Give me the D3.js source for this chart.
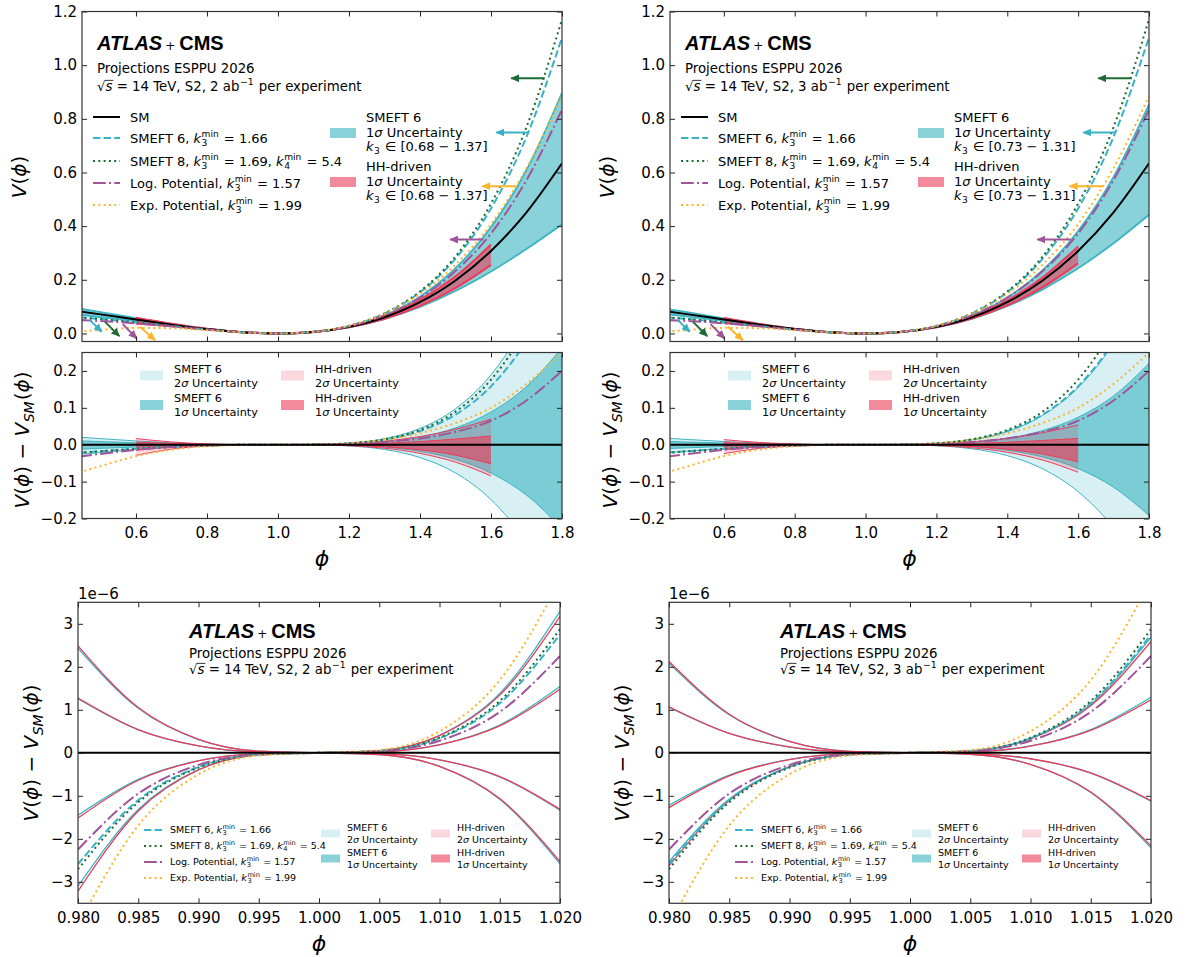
<!DOCTYPE html>
<html>
<head>
<meta charset="utf-8">
<script src="https://cdn.jsdelivr.net/npm/d3@7"></script>
<style>
body { margin: 0; background: #fff; }
svg text { white-space: pre; font-family: "DejaVu Sans", sans-serif; fill: #000; }
</style>
</head>
<body>
<svg id="chart" width="1186" height="957"></svg>
<script>
// ---- values ----
var phiTop = [0.44, 0.5, 0.6, 0.7, 0.8, 0.9, 1.0, 1.1, 1.2, 1.3, 1.4, 1.5, 1.6, 1.7, 1.8];
var vSM     = [0.0822, 0.0711, 0.0518, 0.0329, 0.0164, 0.0046, 0, 0.0056, 0.0245, 0.0602, 0.1165, 0.1975, 0.3076, 0.4515, 0.6342];
// V - V_SM for the benchmark potentials
var dSmeft6 = [-0.0219, -0.0176, -0.0109, -0.0055, -0.0019, -0.0003, 0, 0.0004, 0.0036, 0.0137, 0.0369, 0.0814, 0.1583, 0.2815, 0.4687];
var dSmeft8 = [-0.0221, -0.0178, -0.0111, -0.0057, -0.0020, -0.0003, 0, 0.0004, 0.0038, 0.0147, 0.0401, 0.0896, 0.1764, 0.3177, 0.5361];
var dLog    = [-0.032, -0.025, -0.014, -0.0065, -0.0022, -0.0003, 0, 0.0003, 0.0023, 0.0075, 0.017, 0.035, 0.065, 0.12, 0.20];
var dExp    = [-0.075, -0.058, -0.031, -0.0135, -0.004, -0.0005, 0, 0.0005, 0.004, 0.0135, 0.031, 0.059, 0.10, 0.165, 0.25];

// SMEFT 6 bands, 2 ab-1
var band2Lo1 = [0.0106, 0.0085, 0.0053, 0.0027, 0.0009, 0.0001, 0, -0.0002, -0.0017, -0.0066, -0.0179, -0.0395, -0.0768, -0.1365, -0.2273];
var band2Hi1 = [-0.0123, -0.0099, -0.0061, -0.0031, -0.0011, -0.0002, 0, 0.0002, 0.0020, 0.0077, 0.0207, 0.0457, 0.0888, 0.1578, 0.2628];
var band2Lo2 = [0.0205, 0.0165, 0.0103, 0.0052, 0.0018, 0.0003, 0, -0.0004, -0.0033, -0.0129, -0.0347, -0.0765, -0.1487, -0.2645, -0.4402];
var band2Hi2 = [-0.0262, -0.0211, -0.0131, -0.0066, -0.0023, -0.0003, 0, 0.0005, 0.0043, 0.0164, 0.0442, 0.0975, 0.1896, 0.3371, 0.5612];
// SMEFT 6 bands, 3 ab-1
var band3Lo1 = [0.0089, 0.0072, 0.0045, 0.0023, 0.0008, 0.0001, 0, -0.0002, -0.0015, -0.0056, -0.0151, -0.0333, -0.0648, -0.1152, -0.1917];
var band3Hi1 = [-0.0103, -0.0083, -0.0051, -0.0026, -0.0009, -0.0001, 0, 0.0002, 0.0017, 0.0064, 0.0173, 0.0383, 0.0744, 0.1323, 0.2202];
var band3Lo2 = [0.0176, 0.0141, 0.0088, 0.0044, 0.0016, 0.0002, 0, -0.0003, -0.0029, -0.0110, -0.0296, -0.0654, -0.1272, -0.2262, -0.3765];
var band3Hi2 = [-0.0214, -0.0172, -0.0107, -0.0054, -0.0019, -0.0003, 0, 0.0004, 0.0035, 0.0134, 0.0361, 0.0796, 0.1547, 0.2752, 0.4581];

// HH-driven bands (phi 0.6 - 1.6)
var phiHH = [0.6, 0.7, 0.8, 0.9, 1.0, 1.1, 1.2, 1.3, 1.4, 1.5, 1.6];
var hh2Lo1 = [0.0070, 0.0033, 0.0011, 0.0002, 0, -0.0002, -0.0015, -0.0054, -0.0137, -0.0284, -0.0518];
var hh2Hi1 = [-0.0153, -0.0061, -0.0017, -0.0002, 0, 0.0002, 0.0013, 0.0040, 0.0086, 0.0153, 0.0236];
var hh2Lo2 = [0.0167, 0.0074, 0.0023, 0.0003, 0, -0.0003, -0.0027, -0.0095, -0.0234, -0.0473, -0.0846];
var hh2Hi2 = [-0.0289, -0.0118, -0.0034, -0.0004, 0, 0.0004, 0.0030, 0.0097, 0.0222, 0.0418, 0.0694];
var hh3Lo1 = [0.0054, 0.0026, 0.0009, 0.0001, 0, -0.0001, -0.0013, -0.0047, -0.0121, -0.0252, -0.0463];
var hh3Hi1 = [-0.0134, -0.0053, -0.0015, -0.0002, 0, 0.0002, 0.0010, 0.0032, 0.0067, 0.0115, 0.0170];
var hh3Lo2 = [0.0138, 0.0062, 0.0019, 0.0003, 0, -0.0003, -0.0024, -0.0083, -0.0205, -0.0416, -0.0747];
var hh3Hi2 = [-0.0242, -0.0099, -0.0028, -0.0003, 0, 0.0003, 0.0024, 0.0078, 0.0175, 0.0326, 0.0536];

// zoom around the minimum, units of 1e-6
var phiBot  = [0.980, 0.985, 0.990, 0.995, 1.000, 1.005, 1.010, 1.015, 1.020];
var bSmeft6 = [-2.590, -1.101, -0.329, -0.041, 0, 0.042, 0.339, 1.151, 2.750];
var bSmeft8 = [-2.708, -1.151, -0.344, -0.043, 0, 0.044, 0.354, 1.204, 2.875];
var bLog    = [-2.25, -0.95, -0.28, -0.035, 0, 0.035, 0.28, 0.95, 2.25];
var bExp    = [-4.0, -1.69, -0.5, -0.063, 0, 0.063, 0.5, 1.69, 4.0];
var bS2Lo1 = [1.256, 0.534, 0.159, 0.020, 0, -0.020, -0.164, -0.558, -1.333];
var bS2Hi1 = [-1.452, -0.617, -0.184, -0.023, 0, 0.024, 0.190, 0.646, 1.542];
var bS2Lo2 = [2.432, 1.034, 0.309, 0.039, 0, -0.039, -0.318, -1.081, -2.583];
var bS2Hi2 = [-3.101, -1.318, -0.393, -0.050, 0, 0.050, 0.405, 1.379, 3.292];
var bH2Lo1 = [1.273, 0.539, 0.161, 0.020, 0, -0.020, -0.163, -0.553, -1.315];
var bH2Hi1 = [-1.518, -0.638, -0.188, -0.023, 0, 0.023, 0.186, 0.625, 1.476];
var bH2Lo2 = [2.487, 1.051, 0.313, 0.039, 0, -0.039, -0.315, -1.065, -2.529];
var bH2Hi2 = [-3.216, -1.355, -0.400, -0.050, 0, 0.050, 0.398, 1.341, 3.174];
var bS3Lo1 = [1.059, 0.450, 0.134, 0.017, 0, -0.017, -0.139, -0.471, -1.125];
var bS3Hi1 = [-1.217, -0.517, -0.154, -0.019, 0, 0.020, 0.159, 0.541, 1.292];
var bS3Lo2 = [2.080, 0.884, 0.264, 0.033, 0, -0.034, -0.272, -0.925, -2.209];
var bS3Hi2 = [-2.531, -1.076, -0.321, -0.040, 0, 0.041, 0.331, 1.125, 2.688];
var bH3Lo1 = [1.071, 0.454, 0.136, 0.017, 0, -0.017, -0.138, -0.467, -1.113];
var bH3Hi1 = [-1.275, -0.536, -0.158, -0.020, 0, 0.020, 0.156, 0.522, 1.233];
var bH3Lo2 = [2.123, 0.898, 0.267, 0.033, 0, -0.034, -0.269, -0.911, -2.165];
var bH3Hi2 = [-2.630, -1.108, -0.327, -0.041, 0, 0.041, 0.325, 1.094, 2.588];

// arrows in the upper panels (phi, V)
var arrowX0 = [1.751, 1.707, 1.670, 1.579, 0.4705, 0.513, 0.5627, 0.6114];
var arrowY0 = [0.951, 0.749, 0.549, 0.350, 0.0496, 0.043, 0.0347, 0.0246];
var arrowX1 = [1.657, 1.615, 1.576, 1.485, 0.5035, 0.553, 0.6021, 0.6537];
var arrowY1 = [0.951, 0.749, 0.549, 0.350, 0.006, -0.010, -0.0187, -0.025];
var arrowModel = ['s8', 's6', 'exp', 'log', 's6', 's8', 'log', 'exp'];

var xTicksTop = [0.6, 0.8, 1.0, 1.2, 1.4, 1.6, 1.8];
var yTicksTop = [0, 0.2, 0.4, 0.6, 0.8, 1.0, 1.2];
var yTicksRatio = [-0.2, -0.1, 0, 0.1, 0.2];
var xTicksBot = [0.980, 0.985, 0.990, 0.995, 1.000, 1.005, 1.010, 1.015, 1.020];
var yTicksBot = [-3, -2, -1, 0, 1, 2, 3];

// ---- style ----
var C_S6 = '#38b2c4', C_S8 = '#1e6b35', C_LOG = '#a0549a', C_EXP = '#fbb52b';
var C_BAND = '#3cb4c2', C_HH = '#eb3c5a';
var DASH = { s6: '7.4,3.2', s8: '2,3.3', log: '12.8,3.2,2,3.2', exp: '2,3.3' };
var COL = { s6: C_S6, s8: C_S8, log: C_LOG, exp: C_EXP };
var K3 = [{ t: 'k', it: true }, { sub: '3', sup: 'min' }];

var svg = d3.select('#chart');
var defs = svg.append('defs');
var clipN = 0;

Object.keys(COL).forEach(function (k) {
    defs.append('marker')
        .attr('id', 'arr-' + k)
        .attr('markerUnits', 'userSpaceOnUse')
        .attr('markerWidth', 9).attr('markerHeight', 8)
        .attr('refX', 8).attr('refY', 4)
        .attr('orient', 'auto')
        .append('path').attr('d', 'M0,0 L9,4 L0,8 Z').attr('fill', COL[k]);
});

// text made of pieces: plain, italic, sub/superscripts
function rich(g, x, y, parts, fs) {
    var cx = x;
    parts.forEach(function (p) {
        if (typeof p === 'string') p = { t: p };
        if (p.t !== undefined) {
            var t = g.append('text').attr('x', cx).attr('y', y).attr('font-size', fs).text(p.t);
            if (p.it) t.attr('font-style', 'italic');
            var w = t.node().getComputedTextLength();
            if (p.over) {
                g.append('line')
                    .attr('x1', cx - 0.5).attr('x2', cx + w + 1)
                    .attr('y1', y - fs * 0.8).attr('y2', y - fs * 0.8)
                    .attr('stroke', '#000').attr('stroke-width', fs * 0.06);
            }
            cx += w;
        } else {
            var s = fs * 0.7, w2 = 0;
            if (p.sup) {
                var a = g.append('text').attr('x', cx + 0.5).attr('y', y - fs * 0.42).attr('font-size', s).text(p.sup);
                w2 = a.node().getComputedTextLength();
            }
            if (p.sub) {
                var b = g.append('text').attr('x', cx + 0.5).attr('y', y + fs * 0.22).attr('font-size', s).text(p.sub);
                if (p.subIt) b.attr('font-style', 'italic');
                w2 = Math.max(w2, b.node().getComputedTextLength());
            }
            cx += w2 + 1.5;
        }
    });
    return cx - x;
}

function yLabel(cx, cy, parts, fs) {
    var g = svg.append('g').attr('transform', 'translate(' + cx + ',' + cy + ') rotate(-90)');
    var inner = g.append('g');
    var w = rich(inner, 0, 0, parts, fs);
    inner.attr('transform', 'translate(' + (-w / 2) + ',' + (fs * 0.36) + ')');
}

function xLabel(cx, cy) {
    svg.append('text').attr('x', cx).attr('y', cy + 8).attr('text-anchor', 'middle')
        .attr('font-size', 22).attr('font-style', 'italic').text('ϕ');
}

function clip(x0, y0, x1, y1) {
    var id = 'clip' + (clipN++);
    defs.append('clipPath').attr('id', id).append('rect')
        .attr('x', x0).attr('y', y0).attr('width', x1 - x0).attr('height', y1 - y0);
    return svg.append('g').attr('clip-path', 'url(#' + id + ')');
}

function axes(x, y, x0, x1, y0, y1, xt, yt, xfmt, yfmt) {
    var parts = [
        ['translate(0,' + y1 + ')', d3.axisBottom(x).tickValues(xt).tickFormat(xfmt || ''), 9],
        ['translate(0,' + y0 + ')', d3.axisTop(x).tickValues(xt).tickFormat(''), 3],
        ['translate(' + x0 + ',0)', d3.axisLeft(y).tickValues(yt).tickFormat(yfmt), 5],
        ['translate(' + x1 + ',0)', d3.axisRight(y).tickValues(yt).tickFormat(''), 3]
    ];
    parts.forEach(function (p) {
        var a = svg.append('g').attr('transform', p[0])
            .call(p[1].tickSizeInner(-5).tickSizeOuter(0).tickPadding(p[2]));
        a.select('.domain').remove();
        a.attr('font-family', '"DejaVu Sans", sans-serif').attr('font-size', 15);
        a.selectAll('line').attr('stroke', '#222').attr('stroke-width', 1);
    });
    svg.append('rect').attr('x', x0).attr('y', y0).attr('width', x1 - x0).attr('height', y1 - y0)
        .attr('fill', 'none').attr('stroke', '#333').attr('stroke-width', 1.2);
}

function zip(xs, ys, base) {
    return xs.map(function (p, i) { return [p, ys[i] + (base ? base[i] : 0)]; });
}

function title(x0, yA, yP, yS, lumi) {
    var g = svg.append('g');
    var a = g.append('text').attr('x', x0).attr('y', yA)
        .style('font-family', '"Liberation Sans", Arial, sans-serif')
        .attr('font-weight', 'bold').attr('font-style', 'italic').attr('font-size', 20).text('ATLAS');
    var cx = x0 + a.node().getComputedTextLength() + 3;
    var p = g.append('text').attr('x', cx).attr('y', yA).attr('font-size', 12).text('+');
    cx += p.node().getComputedTextLength() + 4;
    g.append('text').attr('x', cx).attr('y', yA)
        .style('font-family', '"Liberation Sans", Arial, sans-serif')
        .attr('font-weight', 'bold').attr('font-size', 20).text('CMS');
    rich(g, x0, yP, ['Projections ESPPU 2026'], 13.3);
    rich(g, x0, yS, [{ t: '√' }, { t: 's', it: true, over: true }, { t: ' = 14 TeV, S2, ' + lumi + ' ab' },
        { sup: '−1' }, { t: ' per experiment' }], 13.3);
}

var modelsTop = [
    { k: 's6', d: dSmeft6 }, { k: 's8', d: dSmeft8 }, { k: 'log', d: dLog }, { k: 'exp', d: dExp }
];
var modelsBot = [
    { k: 's6', d: bSmeft6 }, { k: 's8', d: bSmeft8 }, { k: 'log', d: bLog }, { k: 'exp', d: bExp }
];
var modelLabels = {
    s6: ['SMEFT 6, '].concat(K3, [' = 1.66']),
    s8: ['SMEFT 8, '].concat(K3, [' = 1.69, ', { t: 'k', it: true }, { sub: '4', sup: 'min' }, ' = 5.4']),
    log: ['Log. Potential, '].concat(K3, [' = 1.57']),
    exp: ['Exp. Potential, '].concat(K3, [' = 1.99'])
};

function styled(path, k, lw) {
    return path.attr('fill', 'none').attr('stroke', COL[k]).attr('stroke-width', lw)
        .attr('stroke-dasharray', DASH[k]);
}

// ---- upper panel: V(phi) ----
function topPanel(o) {
    var x0 = o.x0, x1 = o.x1, y0 = 11.5, y1 = 341.5;
    var x = d3.scaleLinear().domain([0.448, 1.8]).range([x0, x1]);
    var y = d3.scaleLinear().domain([-0.03, 1.2]).range([y1, y0]);
    var line = d3.line().x(function (d) { return x(d[0]); }).y(function (d) { return y(d[1]); }).curve(d3.curveMonotoneX);
    var area = d3.area().x(function (d) { return x(d[0]); })
        .y0(function (d) { return y(d[1]); }).y1(function (d) { return y(d[2]); }).curve(d3.curveMonotoneX);
    var g = clip(x0, y0, x1, y1);

    var band = phiTop.map(function (p, i) { return [p, vSM[i] + o.lo1[i], vSM[i] + o.hi1[i]]; });
    g.append('path').attr('d', area(band)).attr('fill', C_BAND).attr('fill-opacity', 0.6);
    [o.lo1, o.hi1].forEach(function (e) {
        g.append('path').attr('d', line(zip(phiTop, e, vSM))).attr('fill', 'none')
            .attr('stroke', C_BAND).attr('stroke-width', 1.8);
    });

    var vSMhh = vSM.slice(2, 13);
    var hh = phiHH.map(function (p, i) { return [p, vSMhh[i] + o.hhLo1[i], vSMhh[i] + o.hhHi1[i]]; });
    g.append('path').attr('d', area(hh)).attr('fill', C_HH).attr('fill-opacity', 0.6);
    [o.hhLo1, o.hhHi1].forEach(function (e) {
        g.append('path').attr('d', line(zip(phiHH, e, vSMhh))).attr('fill', 'none')
            .attr('stroke', C_HH).attr('stroke-width', 2);
    });

    g.append('path').attr('d', line(zip(phiTop, vSM))).attr('fill', 'none')
        .attr('stroke', '#000').attr('stroke-width', 2);
    modelsTop.forEach(function (m) {
        styled(g.append('path').attr('d', line(zip(phiTop, m.d, vSM))), m.k, 2);
    });

    arrowX0.forEach(function (ax, i) {
        g.append('line')
            .attr('x1', x(ax)).attr('y1', y(arrowY0[i]))
            .attr('x2', x(arrowX1[i])).attr('y2', y(arrowY1[i]))
            .attr('stroke', COL[arrowModel[i]]).attr('stroke-width', 2)
            .attr('marker-end', 'url(#arr-' + arrowModel[i] + ')');
    });

    axes(x, y, x0, x1, y0, y1, xTicksTop, yTicksTop, null, d3.format('.1f'));
    yLabel(x0 - 63.5, 177, [{ t: 'V', it: true }, '(', { t: 'ϕ', it: true }, ')'], 20);
    title(x0 + 15, 50, 73, 91, o.lumi);

    // legend: models
    var lg = svg.append('g');
    var rows = [117, 138, 161, 183, 205];
    var keys = ['sm', 's6', 's8', 'log', 'exp'];
    keys.forEach(function (k, i) {
        var l = lg.append('line').attr('x1', x0 + 11).attr('x2', x0 + 38)
            .attr('y1', rows[i]).attr('y2', rows[i]).attr('stroke-width', 2);
        if (k === 'sm') l.attr('stroke', '#000');
        else l.attr('stroke', COL[k]).attr('stroke-dasharray', DASH[k]);
        rich(lg, x0 + 48, rows[i] + 4.7, k === 'sm' ? ['SM'] : modelLabels[k], 13);
    });
    // legend: bands
    var sw = [[o.x0 + 248, 128, C_BAND, 'SMEFT 6', 117], [o.x0 + 248, 177, C_HH, 'HH-driven', 166]];
    sw.forEach(function (s) {
        lg.append('rect').attr('x', s[0]).attr('y', s[1]).attr('width', 26).attr('height', 10)
            .attr('fill', s[2]).attr('fill-opacity', 0.6);
        rich(lg, x0 + 284, s[4] + 4.7, [s[3]], 13);
        rich(lg, x0 + 284, s[4] + 19.7, ['1', { t: 'σ', it: true }, ' Uncertainty'], 13);
        rich(lg, x0 + 284, s[4] + 33.7, [{ t: 'k', it: true }, { sub: '3' }, ' ∈ ' + o.range], 13);
    });
}

// ---- ratio panel: V - V_SM ----
function ratioPanel(o) {
    var x0 = o.x0, x1 = o.x1, y0 = 352.5, y1 = 518.5;
    var x = d3.scaleLinear().domain([0.448, 1.8]).range([x0, x1]);
    var y = d3.scaleLinear().domain([-0.2, 0.25]).range([y1, y0]);
    var line = d3.line().x(function (d) { return x(d[0]); }).y(function (d) { return y(d[1]); }).curve(d3.curveMonotoneX);
    var area = d3.area().x(function (d) { return x(d[0]); })
        .y0(function (d) { return y(d[1]); }).y1(function (d) { return y(d[2]); }).curve(d3.curveMonotoneX);
    var g = clip(x0, y0, x1, y1);

    function band(xs, lo, hi, col, op) {
        g.append('path').attr('d', area(xs.map(function (p, i) { return [p, lo[i], hi[i]]; })))
            .attr('fill', col).attr('fill-opacity', op);
        [lo, hi].forEach(function (e) {
            g.append('path').attr('d', line(zip(xs, e))).attr('fill', 'none')
                .attr('stroke', col).attr('stroke-width', 1);
        });
    }
    band(phiTop, o.lo2, o.hi2, C_BAND, 0.2);
    band(phiTop, o.lo1, o.hi1, C_BAND, 0.6);
    band(phiHH, o.hhLo2, o.hhHi2, C_HH, 0.2);
    band(phiHH, o.hhLo1, o.hhHi1, C_HH, 0.6);

    modelsTop.forEach(function (m) {
        styled(g.append('path').attr('d', line(zip(phiTop, m.d))), m.k, 2);
    });
    g.append('line').attr('x1', x0).attr('x2', x1).attr('y1', y(0)).attr('y2', y(0))
        .attr('stroke', '#000').attr('stroke-width', 2);

    axes(x, y, x0, x1, y0, y1, xTicksTop, yTicksRatio, d3.format('.1f'), d3.format('.1f'));
    yLabel(x0 - 60, 440, [{ t: 'V', it: true }, '(', { t: 'ϕ', it: true }, ') − ', { t: 'V', it: true },
        { sub: 'SM', subIt: true }, '(', { t: 'ϕ', it: true }, ')'], 20);
    xLabel((x0 + x1) / 2, 558);

    var lg = svg.append('g');
    var items = [
        [x0 + 58, 370.5, C_BAND, 0.2, 'SMEFT 6', '2', 369],
        [x0 + 58, 400, C_BAND, 0.6, 'SMEFT 6', '1', 398],
        [x0 + 199, 370.5, C_HH, 0.2, 'HH-driven', '2', 369],
        [x0 + 199, 400, C_HH, 0.6, 'HH-driven', '1', 398]
    ];
    items.forEach(function (s) {
        lg.append('rect').attr('x', s[0]).attr('y', s[1]).attr('width', 23).attr('height', 10)
            .attr('fill', s[2]).attr('fill-opacity', s[3]);
        rich(lg, s[0] + 34, s[6] + 4, [s[4]], 11.3);
        rich(lg, s[0] + 34, s[6] + 17.5, [s[5], { t: 'σ', it: true }, ' Uncertainty'], 11.3);
    });
}

// ---- lower panels: zoom near phi = 1 ----
function bottomPanel(o) {
    var x0 = o.x0, x1 = o.x1, y0 = 602.3, y1 = 903.3;
    var x = d3.scaleLinear().domain([0.98, 1.02]).range([x0, x1]);
    var y = d3.scaleLinear().domain([-3.5, 3.5]).range([y1, y0]);
    var line = d3.line().x(function (d) { return x(d[0]); }).y(function (d) { return y(d[1]); }).curve(d3.curveMonotoneX);
    var g = clip(x0, y0, x1, y1);

    o.sEdges.forEach(function (e) {
        g.append('path').attr('d', line(zip(phiBot, e))).attr('fill', 'none')
            .attr('stroke', C_BAND).attr('stroke-width', 1.3);
    });
    o.hEdges.forEach(function (e) {
        g.append('path').attr('d', line(zip(phiBot, e))).attr('fill', 'none')
            .attr('stroke', C_HH).attr('stroke-width', 1.3);
    });
    modelsBot.forEach(function (m) {
        styled(g.append('path').attr('d', line(zip(phiBot, m.d))), m.k, 2);
    });
    g.append('line').attr('x1', x0).attr('x2', x1).attr('y1', y(0)).attr('y2', y(0))
        .attr('stroke', '#000').attr('stroke-width', 2);

    axes(x, y, x0, x1, y0, y1, xTicksBot, yTicksBot, d3.format('.3f'), d3.format('d'));
    svg.append('text').attr('x', x0).attr('y', 599).attr('font-size', 15).text('1e−6');
    yLabel(x0 - 47, 753, [{ t: 'V', it: true }, '(', { t: 'ϕ', it: true }, ') − ', { t: 'V', it: true },
        { sub: 'SM', subIt: true }, '(', { t: 'ϕ', it: true }, ')'], 20);
    xLabel((x0 + x1) / 2, 943);
    title(x0 + 111, 638, 657.5, 674, o.lumi);

    var lg = svg.append('g');
    var rows = [830, 846, 862, 878];
    ['s6', 's8', 'log', 'exp'].forEach(function (k, i) {
        lg.append('line').attr('x1', x0 + 66).attr('x2', x0 + 86).attr('y1', rows[i]).attr('y2', rows[i])
            .attr('stroke', COL[k]).attr('stroke-width', 2).attr('stroke-dasharray', DASH[k]);
        rich(lg, x0 + 92, rows[i] + 3.4, modelLabels[k], 9.5);
    });
    var items = [
        [x0 + 243, 829.5, C_BAND, 0.2, 'SMEFT 6', '2', 828],
        [x0 + 243, 854.5, C_BAND, 0.6, 'SMEFT 6', '1', 853],
        [x0 + 353, 829.5, C_HH, 0.2, 'HH-driven', '2', 828],
        [x0 + 353, 854.5, C_HH, 0.6, 'HH-driven', '1', 853]
    ];
    items.forEach(function (s) {
        lg.append('rect').attr('x', s[0]).attr('y', s[1]).attr('width', 19).attr('height', 8)
            .attr('fill', s[2]).attr('fill-opacity', s[3]);
        rich(lg, s[0] + 26, s[6] + 3.4, [s[4]], 9.5);
        rich(lg, s[0] + 26, s[6] + 14.8, [s[5], { t: 'σ', it: true }, ' Uncertainty'], 9.5);
    });
}

var left = {
    x0: 82, x1: 562, lumi: '2', range: '[0.68 − 1.37]',
    lo1: band2Lo1, hi1: band2Hi1, lo2: band2Lo2, hi2: band2Hi2,
    hhLo1: hh2Lo1, hhHi1: hh2Hi1, hhLo2: hh2Lo2, hhHi2: hh2Hi2
};
var right = {
    x0: 670, x1: 1149, lumi: '3', range: '[0.73 − 1.31]',
    lo1: band3Lo1, hi1: band3Hi1, lo2: band3Lo2, hi2: band3Hi2,
    hhLo1: hh3Lo1, hhHi1: hh3Hi1, hhLo2: hh3Lo2, hhHi2: hh3Hi2
};
topPanel(left);
ratioPanel(left);
topPanel(right);
ratioPanel(right);

bottomPanel({ x0: 78, x1: 560, lumi: '2',
    sEdges: [bS2Lo1, bS2Hi1, bS2Lo2, bS2Hi2], hEdges: [bH2Lo1, bH2Hi1, bH2Lo2, bH2Hi2] });
bottomPanel({ x0: 669, x1: 1151, lumi: '3',
    sEdges: [bS3Lo1, bS3Hi1, bS3Lo2, bS3Hi2], hEdges: [bH3Lo1, bH3Hi1, bH3Lo2, bH3Hi2] });
</script>
</body>
</html>
